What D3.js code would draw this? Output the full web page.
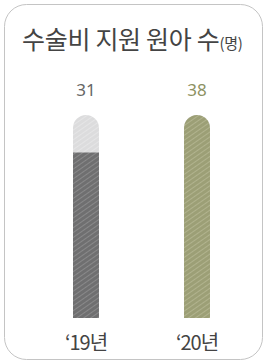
<!DOCTYPE html>
<html>
<head>
<meta charset="utf-8">
<script src="https://cdn.jsdelivr.net/npm/d3@7"></script>
<style>
  html, body { margin: 0; padding: 0; background: #fff; }
  svg { display: block; }
</style>
</head>
<body>
<div id="chart"></div>
<script>
// data
var years = ["‘19년", "‘20년"];
var values = [31, 38];
var barColors = ["#6f6f70", "#9c9f76"];
var labelColors = ["#666666", "#8d9162"];
var maxValue = 38;

var W = 267, H = 363;

var svg = d3.select("#chart")
  .append("svg")
  .attr("width", W)
  .attr("height", H);

// hatch patterns
var defs = svg.append("defs");
function hatch(id, bg, line) {
  var p = defs.append("pattern")
    .attr("id", id)
    .attr("patternUnits", "userSpaceOnUse")
    .attr("width", 4)
    .attr("height", 4)
    .attr("patternTransform", "rotate(-35)");
  p.append("rect").attr("width", 4).attr("height", 4).attr("fill", bg);
  p.append("line")
    .attr("x1", 0).attr("y1", 0.5).attr("x2", 4).attr("y2", 0.5)
    .attr("stroke", line).attr("stroke-width", 0.9);
}
hatch("h0", barColors[0], "#8c8c8d");
hatch("h1", barColors[1], "#b3b591");
hatch("hbg", "#dcdcdd", "#e6e6e7");

// card
svg.append("rect")
  .attr("x", 4.5).attr("y", 4.5)
  .attr("width", 258).attr("height", 355)
  .attr("rx", 22)
  .attr("fill", "#fff")
  .attr("stroke", "#c4c4c4")
  .attr("stroke-width", 1);

// title
var title = svg.append("text")
  .attr("x", 22).attr("y", 49)
  .attr("fill", "#444")
  .style("font-family", "'Noto Sans CJK KR', sans-serif")
  .style("font-size", "25px")
  .style("letter-spacing", "-0.3px");
title.append("tspan").text("수술비 지원 원아 수");
title.append("tspan").style("font-size", "15px").text("(명)");

// scales
var x = d3.scaleBand()
  .domain(years)
  .range([39.7, 243.3])
  .paddingInner(0.766)
  .paddingOuter(0.3);

var y = d3.scaleLinear()
  .domain([0, maxValue])
  .range([318, 115]);

var bw = x.bandwidth();
var r = bw / 2;

function capPath(x0, yTop, yBot) {
  return "M" + x0 + "," + yBot +
    "L" + x0 + "," + (yTop + r) +
    "A" + r + "," + r + " 0 0 1 " + (x0 + bw) + "," + (yTop + r) +
    "L" + (x0 + bw) + "," + yBot + "Z";
}

var g = svg.selectAll(".bar")
  .data(values)
  .enter()
  .append("g")
  .attr("class", "bar");

// background track
g.append("path")
  .attr("d", function (d, i) { return capPath(x(years[i]), y(maxValue), y(0)); })
  .attr("fill", "url(#hbg)");

// value bar
g.append("path")
  .attr("d", function (d, i) {
    var x0 = x(years[i]);
    if (d >= maxValue) return capPath(x0, y(d), y(0));
    return "M" + x0 + "," + y(d) + "h" + bw + "V" + y(0) + "H" + x0 + "Z";
  })
  .attr("fill", function (d, i) { return "url(#h" + i + ")"; });

// value labels
g.append("text")
  .attr("x", function (d, i) { return x(years[i]) + bw / 2; })
  .attr("y", 96)
  .attr("text-anchor", "middle")
  .attr("fill", function (d, i) { return labelColors[i]; })
  .style("font-family", "'Noto Sans', sans-serif")
  .style("font-size", "17px")
  .text(function (d) { return d; });

// year labels
g.append("text")
  .attr("x", function (d, i) { return x(years[i]) + bw / 2; })
  .attr("y", 350)
  .attr("text-anchor", "middle")
  .attr("fill", "#444")
  .style("font-family", "'Noto Sans CJK KR', sans-serif")
  .style("font-size", "20px")
  .style("letter-spacing", "-1px")
  .text(function (d, i) { return years[i]; });
</script>
</body>
</html>
